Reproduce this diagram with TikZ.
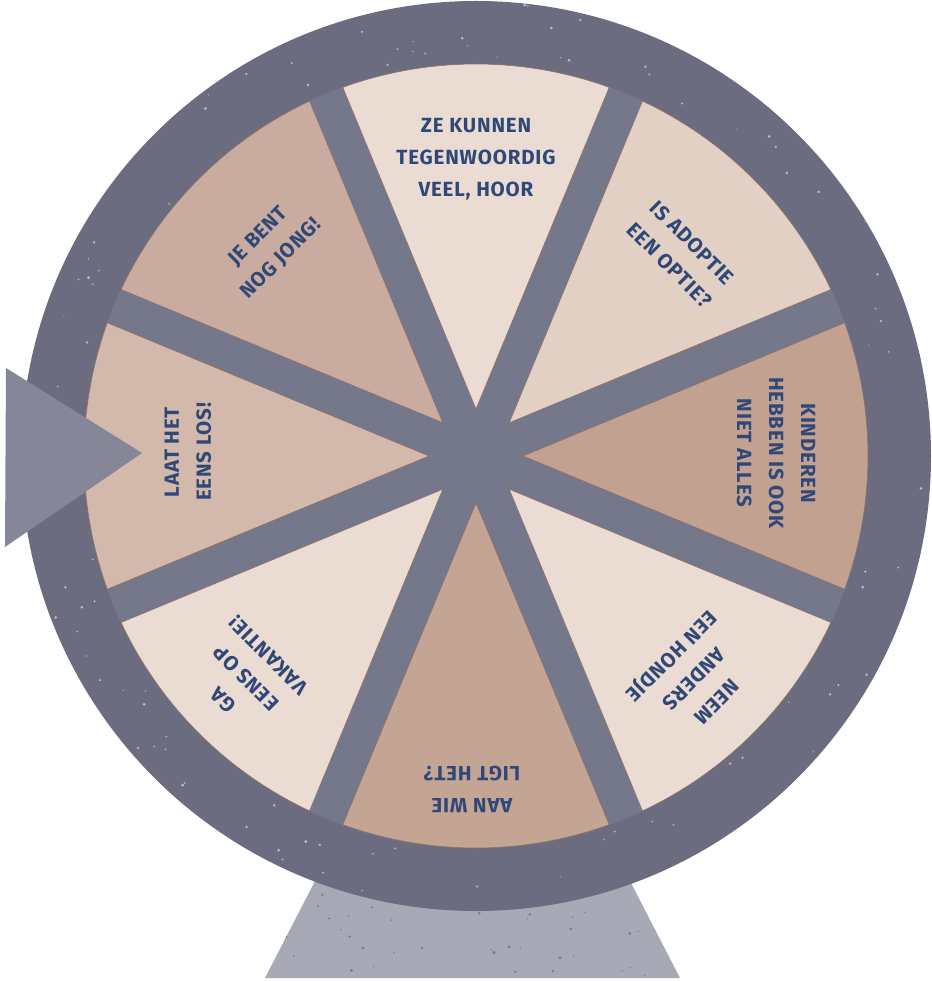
\documentclass[tikz,border=0pt]{standalone}
\usepackage{fontspec}
\setmainfont{Fira Sans}
\definecolor{ringgrey}{RGB}{107,108,127}
\definecolor{spokegrey}{RGB}{117,119,138}
\definecolor{pointergrey}{RGB}{133,135,153}
\definecolor{standgrey}{RGB}{168,169,182}
\definecolor{segpale}{RGB}{234,219,211}
\definecolor{segsand}{RGB}{226,208,197}
\definecolor{segclay}{RGB}{194,161,144}
\definecolor{segtan}{RGB}{196,164,147}
\definecolor{segrose}{RGB}{211,185,171}
\definecolor{segmocha}{RGB}{201,172,159}
\definecolor{edgebrown}{RGB}{140,112,102}
\definecolor{slogblue}{RGB}{47,72,120}
\tikzset{
  wedge/.style={draw=edgebrown, line width=0.6pt, line join=round},
  slogan/.style={text=slogblue, font=\bfseries\fontsize{20.5}{32}\selectfont\addfontfeatures{LetterSpace=4}, align=center, inner sep=0pt},
  speck/.style={fill=white, opacity=0.55},
  grit/.style={fill=ringgrey, opacity=0.8},
}
\begin{document}
\begin{tikzpicture}[x=1pt, y=1pt]
\useasboundingbox (-476,-525) rectangle (455,456);
% stand
\fill[standgrey] (-211,-522) -- (204,-522) -- (138,-394) -- (-145,-394) -- cycle;
\begin{scope}
\clip (-211,-522) -- (204,-522) -- (138,-394) -- (-145,-394) -- cycle;
\pgfmathsetseed{11}
\foreach \i in {1,...,60} {
  \pgfmathsetmacro\px{-210+rnd*415}
  \pgfmathsetmacro\py{-520+rnd*120}
  \pgfmathsetmacro\sz{0.6+rnd*1.2}
  \fill[grit] (\px,\py) circle[radius=\sz pt];
}
\end{scope}
% rim
\fill[ringgrey] (0,0) circle[radius=455pt];
\begin{scope}
\clip (0,0) circle[radius=455pt];
\pgfmathsetseed{5}
\foreach \i in {1,...,90} {
  \pgfmathsetmacro\ang{rnd*360}
  \pgfmathsetmacro\rr{396+rnd*58}
  \pgfmathsetmacro\sz{0.5+rnd*1.1}
  \fill[speck] (\ang:\rr) circle[radius=\sz pt];
}
\end{scope}
\fill[spokegrey] (0,0) circle[radius=392pt];
% segments
\fill[wedge, fill=segpale]  (90:47)   -- (70.13:392)   arc[start angle=70.13,   end angle=109.87,  radius=392pt] -- cycle;
\fill[wedge, fill=segsand]  (45:47)   -- (25.13:392)   arc[start angle=25.13,   end angle=64.87,   radius=392pt] -- cycle;
\fill[wedge, fill=segclay]  (0:47)    -- (-19.87:392)  arc[start angle=-19.87,  end angle=19.87,   radius=392pt] -- cycle;
\fill[wedge, fill=segpale]  (-45:47)  -- (-64.87:392)  arc[start angle=-64.87,  end angle=-25.13,  radius=392pt] -- cycle;
\fill[wedge, fill=segtan]   (-90:47)  -- (-109.87:392) arc[start angle=-109.87, end angle=-70.13,  radius=392pt] -- cycle;
\fill[wedge, fill=segpale]  (-135:47) -- (-154.87:392) arc[start angle=-154.87, end angle=-115.13, radius=392pt] -- cycle;
\fill[wedge, fill=segrose]  (180:47)  -- (160.13:392)  arc[start angle=160.13,  end angle=199.87,  radius=392pt] -- cycle;
\fill[wedge, fill=segmocha] (135:47)  -- (115.13:392)  arc[start angle=115.13,  end angle=154.87,  radius=392pt] -- cycle;
% pointer
\fill[pointergrey] (-470,88) -- (-334,3) -- (-471,-91) -- cycle;
% labels
\node[slogan] (zekunnen) at (0,297) {ZE KUNNEN\\TEGENWOORDIG\\VEEL, HOOR};
\node[slogan, rotate=-45] (adoptie) at (205,202) {IS ADOPTIE\\EEN OPTIE?};
\node[slogan, rotate=-90] (kinderen) at (300,3) {KINDEREN\\HEBBEN IS OOK\\NIET ALLES};
\node[slogan, rotate=-135] (hondje) at (217,-222) {NEEM\\ANDERS\\EEN HONDJE};
\node[slogan, rotate=180] (aanwie) at (-4,-333) {AAN WIE\\LIGT HET?};
\node[slogan, rotate=135] (vakantie) at (-230,-222) {GA\\EENS OP\\VAKANTIE!};
\node[slogan, rotate=90] (laathet) at (-288,4) {LAAT HET\\EENS LOS!};
\node[slogan, rotate=45] (jebent) at (-206,208) {JE BENT\\NOG JONG!};
\end{tikzpicture}
\end{document}
